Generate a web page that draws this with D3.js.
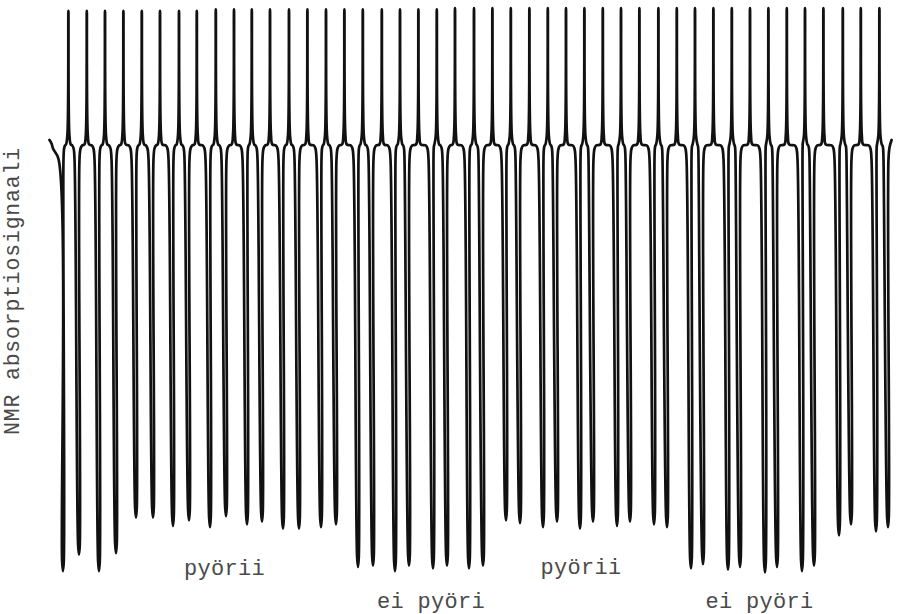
<!DOCTYPE html>
<html>
<head>
<meta charset="utf-8">
<script src="https://cdn.jsdelivr.net/npm/d3@7/dist/d3.min.js"></script>
<style>
  html, body { margin: 0; padding: 0; background: #fff; }
  svg { display: block; }
</style>
</head>
<body>
<svg id="chart" width="899" height="614"></svg>
<script>
// ---- data (time in s, signal in arbitrary units; baseline = 0, spike top ~ 100) ----
const dipTimes = [1.15, 1.95, 2.95, 3.80, 4.80, 5.65, 6.65, 7.45, 8.50, 9.30, 10.35, 11.10,
  12.15, 12.95, 14.05, 14.80, 15.90, 16.65, 17.75, 18.45, 19.65, 20.35, 21.45, 22.15,
  23.30, 24.00, 25.15, 25.85, 27.00, 27.65, 28.85, 29.50, 30.70, 31.35, 32.55, 33.15,
  34.40, 35.00, 36.25, 36.85, 38.10, 38.70, 39.95, 40.55, 41.80, 42.40];
const dipDepths = [-311, -299, -311, -298, -272, -272, -278, -274, -279, -271, -277, -275,
  -280, -280, -279, -277, -308, -307, -311, -307, -309, -307, -309, -307,
  -274, -276, -279, -275, -280, -275, -278, -275, -277, -279, -309, -306,
  -310, -308, -312, -308, -311, -307, -285, -277, -282, -279];
const spikeTimes = [1.42, 2.34, 3.25, 4.17, 5.09, 6.00, 6.95, 7.84, 8.79, 9.70, 10.59,
  11.50, 12.45, 13.37, 14.30, 15.22, 16.14, 17.09, 18.00, 18.92, 19.84, 20.75, 21.70,
  22.62, 23.54, 24.47, 25.39, 26.30, 27.22, 28.14, 29.05, 29.97, 30.92, 31.84, 32.75,
  33.67, 34.59, 35.50, 36.42, 37.34, 38.25, 39.17, 40.14, 41.04, 41.97];
const spikeHeights = [98, 98, 98, 98, 98, 98, 98, 98, 99, 99, 99,
  99, 99, 99, 99, 99, 99, 99, 99, 99, 99, 100, 100,
  100, 100, 100, 100, 100, 100, 100, 100, 100, 100, 100, 100,
  100, 100, 100, 100, 100, 100, 100, 100, 100, 100];
const stateLabels = ["pyörii", "ei pyöri", "pyörii", "ei pyöri"];
const stateLabelTimes = [9.22, 19.55, 27.05, 35.97];
const stateLabelLevels = [-314, -338, -313, -338];
const yAxisTitle = "NMR absorptiosignaali";
const traceStart = 0.6;

// ---- scales ----
const x = d3.scaleLinear().domain([0, 43]).range([40, 900]);
const y = d3.scaleLinear().domain([-300, 100]).range([556, 8]);

const svg = d3.select("#chart");
const B = y(0);

// ---- build the pen trace: dips alternate with spikes ----
const pts = [];
const xs0 = x(traceStart);
pts.push([xs0 - 2.5, B - 5]);
pts.push([xs0 - 0.5, B - 1.5]);
pts.push([xs0 + 1.2, B + 4]);

dipTimes.forEach((t, i) => {
  const xd = x(t), yd = y(dipDepths[i]);
  pts.push([xd - 4.5, B + 14]);
  pts.push([xd - 0.9, yd - 10]);
  pts.push([xd, yd]);
  pts.push([xd + 0.8, yd - 10]);
  pts.push([xd + 0.5, B + 14]);
  if (i < spikeTimes.length) {
    const xs = x(spikeTimes[i]), ys = y(spikeHeights[i]);
    const xn = x(dipTimes[i + 1]);
    const L = xd + 0.5, R = xn - 4.5;
    const rL = Math.max(0.2, Math.min(2.6, (xs - L - 2.4) * 0.6));
    const rR = Math.max(0.2, Math.min(2.6, (R - xs - 2.4) * 0.6));
    pts.push([L + rL * 0.4, B + 3.5]);
    pts.push([L + rL, B + 0.5]);
    pts.push([xs - 2.4, B - 0.5]);
    pts.push([xs - 1.0, B - 10]);
    pts.push([xs, ys]);
    pts.push([xs + 1.0, B - 10]);
    pts.push([xs + 2.4, B - 0.5]);
    pts.push([R - rR, B + 0.5]);
    pts.push([R - rR * 0.4, B + 3.5]);
  } else {
    pts.push([xd + 1.6, B + 2]);
    pts.push([xd + 3.6, B - 5]);
  }
});

const line = d3.line().curve(d3.curveCatmullRom.alpha(0.5));
svg.append("path")
  .attr("d", line(pts))
  .attr("fill", "none")
  .attr("stroke", "#111")
  .attr("stroke-width", 2.7)
  .attr("stroke-linejoin", "round")
  .attr("stroke-linecap", "round");

// ---- labels ----
const font = "'Liberation Mono', 'DejaVu Sans Mono', monospace";
svg.selectAll("text.state")
  .data(stateLabels)
  .join("text")
  .attr("class", "state")
  .attr("x", (d, i) => x(stateLabelTimes[i]))
  .attr("y", (d, i) => y(stateLabelLevels[i]))
  .attr("text-anchor", "middle")
  .attr("font-family", font)
  .attr("font-size", 22)
  .attr("letter-spacing", 0.3)
  .attr("fill", "#4a4a4a")
  .text(d => d);

svg.append("text")
  .attr("transform", `translate(19, 291) rotate(-90)`)
  .attr("text-anchor", "middle")
  .attr("font-family", font)
  .attr("font-size", 21.5)
  .attr("letter-spacing", 0.8)
  .attr("fill", "#4a4a4a")
  .text(yAxisTitle);
</script>
</body>
</html>
